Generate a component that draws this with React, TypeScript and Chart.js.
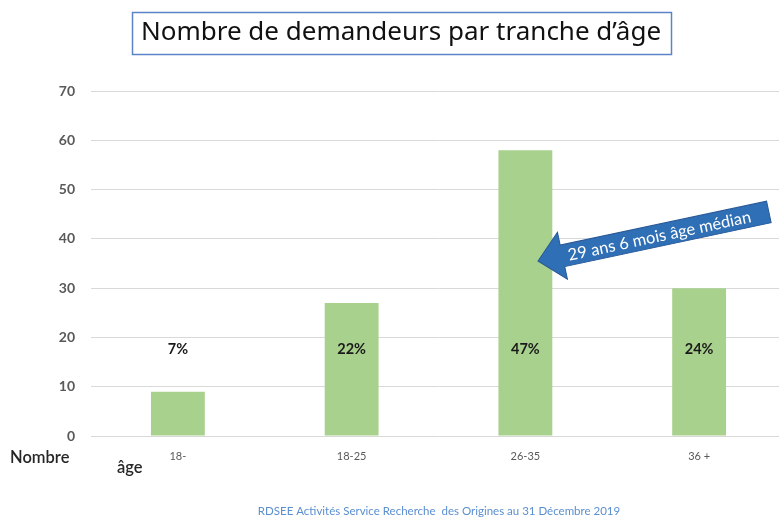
import React, { useEffect, useRef } from "react";
import { Chart, registerables } from "chart.js";

Chart.register(...registerables);

const categories = ["18-", "18-25", "26-35", "36 +"];
const demandeurs = [9, 27, 58, 30];
const yTicks = [0, 10, 20, 30, 40, 50, 60, 70];
const titleText = "Nombre de demandeurs par tranche d\u2019\u00e2ge";
const arrowText = "29 ans 6 mois \u00e2ge m\u00e9dian";
const footerText = "RDSEE Activit\u00e9s Service Recherche  des Origines au 31 D\u00e9cembre 2019";
const yAxisName = "Nombre";
const xAxisName = "\u00e2ge";
const LABEL_LEVEL = 17.5;

const FONT = "Lato, 'Open Sans', sans-serif";

const overlay = {
  id: "overlay",
  afterDraw(chart: any) {
    const ctx = chart.ctx as CanvasRenderingContext2D;
    const x = chart.scales.x;
    const y = chart.scales.y;
    const total = demandeurs.reduce((a, b) => a + b, 0);
    ctx.save();
    // percentage labels
    ctx.font = `bold 14.5px ${FONT}`;
    ctx.fillStyle = "#1a1a1a";
    ctx.textAlign = "center";
    ctx.textBaseline = "middle";
    demandeurs.forEach((v, i) => {
      const pct = Math.round((v / total) * 100) + "%";
      ctx.fillText(pct, x.getPixelForValue(i), y.getPixelForValue(LABEL_LEVEL));
    });

    // title box
    ctx.fillStyle = "#ffffff";
    ctx.fillRect(132, 12, 539, 42);
    ctx.strokeStyle = "#5b84c8";
    ctx.lineWidth = 1.5;
    ctx.strokeRect(132.5, 12.5, 539, 42);
    ctx.fillStyle = "#111111";
    ctx.font = `26px 'Noto Sans', sans-serif`;
    ctx.textAlign = "center";
    ctx.textBaseline = "middle";
    ctx.fillText(titleText, 401, 33);

    // axis names
    ctx.font = `600 16.5px ${FONT}`;
    ctx.fillStyle = "#262626";
    ctx.textAlign = "left";
    ctx.fillText(yAxisName, 10, 458);
    ctx.fillText(xAxisName, 117, 468);

    // footer
    ctx.font = `11.5px ${FONT}`;
    ctx.fillStyle = "#5b8fd0";
    ctx.textAlign = "center";
    ctx.fillText(footerText, 439, 511);

    // arrow
    ctx.translate(538, 261);
    ctx.rotate((-12 * Math.PI) / 180);
    ctx.beginPath();
    ctx.moveTo(0, 0);
    ctx.lineTo(25, -24);
    ctx.lineTo(25, -11);
    ctx.lineTo(236, -11);
    ctx.lineTo(236, 11);
    ctx.lineTo(25, 11);
    ctx.lineTo(25, 24);
    ctx.closePath();
    ctx.fillStyle = "#2f6fb6";
    ctx.fill();
    ctx.strokeStyle = "#2a5a98";
    ctx.lineWidth = 1;
    ctx.stroke();
    ctx.fillStyle = "#ffffff";
    ctx.font = `16.5px ${FONT}`;
    ctx.textAlign = "center";
    ctx.textBaseline = "middle";
    ctx.fillText(arrowText, 124, 1);
    ctx.restore();
  },
};

export default function App() {
  const ref = useRef<HTMLCanvasElement>(null);
  useEffect(() => {
    if (!ref.current) return;
    const chart = new Chart(ref.current, {
      type: "bar",
      data: {
        labels: categories,
        datasets: [
          {
            data: demandeurs,
            backgroundColor: "#a9d18e",
            borderWidth: 0,
            barPercentage: 0.31,
            categoryPercentage: 1,
          },
        ],
      },
      options: {
        responsive: false,
        animation: false,
        devicePixelRatio: 1,
        layout: { padding: { top: 91, right: 1, bottom: 0, left: 0 } },
        plugins: {
          legend: { display: false },
          tooltip: { enabled: false },
          title: { display: false },
        },
        scales: {
          x: {
            grid: { display: false, drawTicks: false },
            border: { display: false },
            ticks: {
              color: "#595959",
              font: { family: FONT, size: 11 },
              padding: 14,
            },
            afterFit(scale: any) {
              scale.height = 81;
            },
          },
          y: {
            min: 0,
            max: 70,
            afterBuildTicks(scale: any) {
              scale.ticks = yTicks.map((v) => ({ value: v }));
            },
            grid: { color: "#d9d9d9", lineWidth: 1, drawTicks: false },
            border: { display: false },
            ticks: {
              color: "#595959",
              font: { family: FONT, size: 14, weight: "bold" },
              padding: 16,
            },
            afterFit(scale: any) {
              scale.width = 91;
            },
          },
        },
      },
      plugins: [overlay],
    });
    return () => chart.destroy();
  }, []);
  return (
    <div style={{ position: "fixed", left: 0, top: 0, width: 787, height: 517, background: "#fff" }}>
      <canvas ref={ref} width={787} height={517} style={{ width: 787, height: 517 }} />
    </div>
  );
}
